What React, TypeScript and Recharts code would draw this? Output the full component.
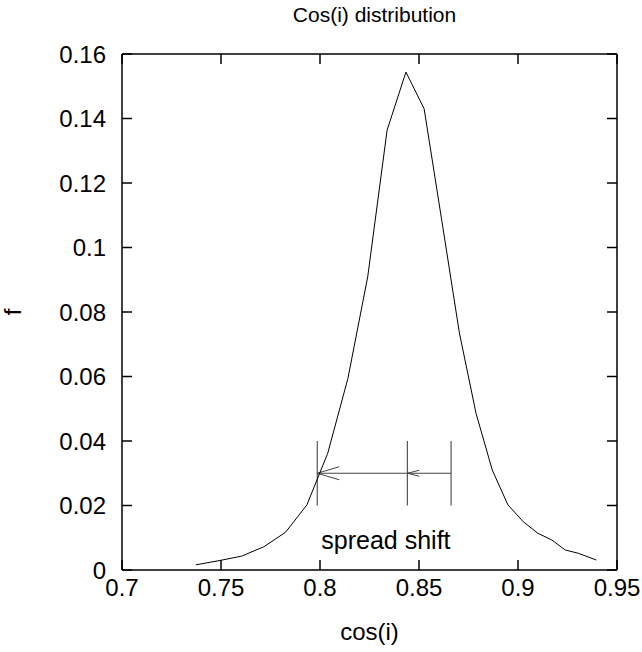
import { LineChart, Line, XAxis, YAxis, ReferenceLine, ReferenceDot } from 'recharts'

// cos(i) bin positions and frequencies
const cosI = [
  0.7373, 0.749, 0.7604, 0.7716, 0.7826, 0.7934, 0.8039, 0.8141, 0.8241, 0.8339, 0.8434, 0.8526,
  0.8616, 0.8704, 0.8788, 0.887, 0.8949, 0.9026, 0.91, 0.9171, 0.9239, 0.9304, 0.9395,
]
const freq = [
  0.0016, 0.0029, 0.0043, 0.0072, 0.0117, 0.0202, 0.0362, 0.0594, 0.0909, 0.1364, 0.1544, 0.143,
  0.108, 0.0735, 0.0486, 0.031, 0.0202, 0.015, 0.0114, 0.0093, 0.0062, 0.0052, 0.0031,
]

const xTicks = [0.7, 0.75, 0.8, 0.85, 0.9, 0.95]
const yTicks = [0, 0.02, 0.04, 0.06, 0.08, 0.1, 0.12, 0.14, 0.16]

// annotation: bar markers and arrows (data coords)
const markX = [0.7986, 0.8441, 0.8662]
const markY = [0.02, 0.04]
const arrowY = 0.03
const noteX = 0.8333
const noteY = 0.0093

const data = cosI.map((x, i) => ({ x, f: freq[i] }))

const FONT = 'Liberation Sans, Arial, sans-serif'
const tickStyle = { fill: '#000', fontSize: 24, fontFamily: FONT }
const axisLine = { stroke: '#000', strokeWidth: 1.5 }
const tickLine = { stroke: '#000', strokeWidth: 1.5 }
const noLabel = () => <g />

const arrowShape = (len: number, half: number) => (p: any) => {
  const { x1, y1, x2, y2 } = p
  const a = Math.atan2(y2 - y1, x2 - x1)
  const bx = x2 - len * Math.cos(a)
  const by = y2 - len * Math.sin(a)
  const nx = -Math.sin(a) * half
  const ny = Math.cos(a) * half
  return (
    <g stroke="#444" strokeWidth={1} fill="none">
      <line x1={x1} y1={y1} x2={x2} y2={y2} />
      <polyline points={`${bx + nx},${by + ny} ${x2},${y2} ${bx - nx},${by - ny}`} />
    </g>
  )
}

export default function App() {
  return (
    <div style={{ position: 'absolute', left: 0, top: 0, background: '#fff' }}>
      <LineChart width={642} height={652} data={data} margin={{ top: 53, right: 24, bottom: 0, left: 0 }}>
        <XAxis
          dataKey="x" type="number" domain={[0.7, 0.95]} ticks={xTicks} allowDataOverflow
          height={82} tick={tickStyle} tickSize={-10} tickMargin={19}
          axisLine={axisLine} tickLine={tickLine}
          label={{ value: 'cos(i)', position: 'insideBottom', offset: 12, fill: '#000', fontSize: 24, fontFamily: FONT }}
        />
        <XAxis
          xAxisId="top" orientation="top" dataKey="x" type="number" domain={[0.7, 0.95]} ticks={xTicks}
          allowDataOverflow height={1} tick={noLabel} tickSize={-10} axisLine={axisLine} tickLine={tickLine}
          label={{ value: 'Cos(i) distribution', position: 'top', offset: 31, dx: 5, fill: '#000', fontSize: 21, fontFamily: FONT }}
        />
        <YAxis
          type="number" domain={[0, 0.16]} ticks={yTicks} allowDataOverflow
          width={122} tick={tickStyle} tickSize={-10} tickMargin={26}
          axisLine={axisLine} tickLine={tickLine}
          label={{ value: 'f', position: 'center', dx: -49, angle: -90, fill: '#000', fontSize: 24, fontFamily: FONT }}
        />
        <YAxis
          yAxisId="right" orientation="right" type="number" domain={[0, 0.16]} ticks={yTicks}
          allowDataOverflow width={1} tick={noLabel} tickSize={-10} axisLine={axisLine} tickLine={tickLine}
        />
        {markX.map((mx) => (
          <ReferenceLine
            key={mx}
            segment={[{ x: mx, y: markY[0] }, { x: mx, y: markY[1] }]}
            stroke="#333" strokeWidth={1} ifOverflow="visible"
          />
        ))}
        <ReferenceLine
          segment={[{ x: markX[2], y: arrowY }, { x: markX[1], y: arrowY }]}
          shape={arrowShape(12, 3)} ifOverflow="visible"
        />
        <ReferenceLine
          segment={[{ x: markX[1], y: arrowY }, { x: markX[0], y: arrowY }]}
          shape={arrowShape(22, 6.5)} ifOverflow="visible"
        />
        <ReferenceDot
          x={noteX} y={noteY} r={0} fill="none" stroke="none"
          label={{ value: 'spread shift', position: 'center', fill: '#000', fontSize: 25, fontFamily: FONT }}
        />
        {/* invisible copy bound to the mirror axes so they get drawn */}
        <Line
          xAxisId="top" yAxisId="right" type="linear" dataKey="f" stroke="none"
          dot={false} activeDot={false} isAnimationActive={false}
        />
        <Line
          type="linear" dataKey="f" stroke="#000" strokeWidth={1}
          dot={false} isAnimationActive={false}
        />
      </LineChart>
    </div>
  )
}
